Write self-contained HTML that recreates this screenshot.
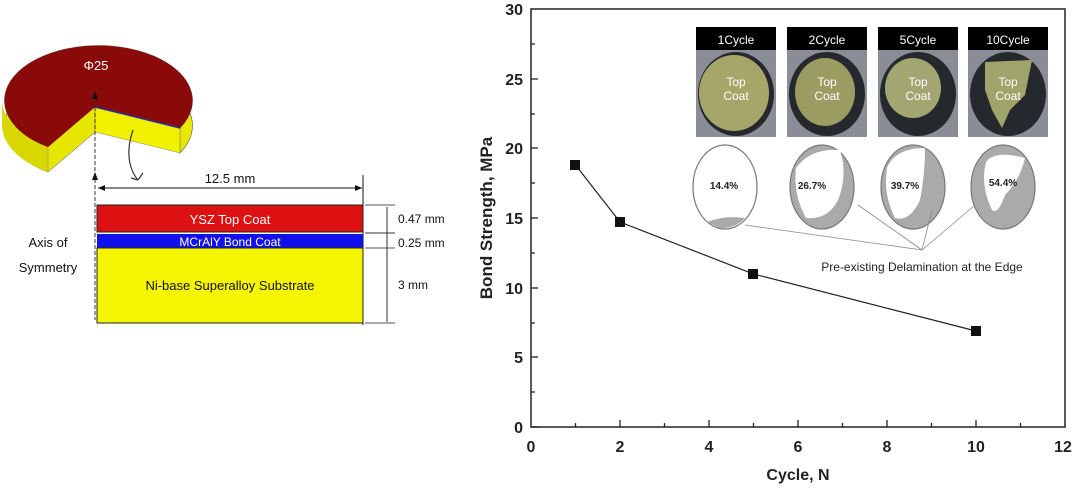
<!DOCTYPE html>
<html><head><meta charset="utf-8"><style>
html,body{margin:0;padding:0;background:#fff;}
svg{display:block;font-family:"Liberation Sans",Arial,sans-serif;}
</style></head><body>
<svg width="1080" height="491" viewBox="0 0 1080 491" xmlns="http://www.w3.org/2000/svg">
<!-- Left puck -->
<g>
  <path d="M95,132 L48,172 A94,55 0 1 1 180,153 L180,128 A94,55 0 1 0 48,147 Z" fill="#e8e800" stroke="#555" stroke-width="0.6"/>
  <path d="M2,100 L2,125 A94,55 0 0 0 48,172 L48,147 A94,55 0 0 1 2,100Z" fill="#d8d800"/>
  <polygon points="95,107 180,128 180,153 95,132" fill="#f0f000" stroke="#888" stroke-width="0.5"/>
  <polygon points="95,107 48,147 48,172 95,132" fill="#e6e600" stroke="#888" stroke-width="0.5"/>
  <path d="M95,107 L48,147 A94,55 0 1 1 180,128 Z" fill="#8a0a0a"/>
  <path d="M95,107 L180,128" stroke="#2233aa" stroke-width="1.5"/>
  <text x="96" y="70" fill="#fff" font-size="13" text-anchor="middle">Φ25</text>
  <line x1="95" y1="95" x2="95" y2="320" stroke="#333" stroke-width="1" stroke-dasharray="4,2"/>
  <polygon points="95,91 92,99 98,99" fill="#111"/>
  <polygon points="95,172 92,180 98,180" fill="#111"/>
  <path d="M133,130 C126,150 128,168 138,180 M138,180 L143,173 M138,180 L131,178" stroke="#333" fill="none" stroke-width="1.2"/>
</g>
<!-- Cross-section -->
<text x="230" y="183" font-size="13" text-anchor="middle" fill="#111">12.5 mm</text>
<line x1="98" y1="188" x2="362" y2="188" stroke="#111"/>
<polygon points="98,188 105,185 105,191" fill="#111"/>
<polygon points="362,188 355,185 355,191" fill="#111"/>
<line x1="363" y1="175" x2="363" y2="325" stroke="#111"/>
<rect x="97" y="205" width="266" height="27" fill="#dd1111" stroke="#222"/>
<rect x="97" y="234" width="266" height="14" fill="#1111ee"/>
<rect x="97" y="248" width="266" height="75" fill="#f5f500" stroke="#222"/>
<text x="230" y="224" fill="#fff" font-size="13" text-anchor="middle">YSZ Top Coat</text>
<text x="230" y="246" fill="#fff" font-size="12" text-anchor="middle">MCrAlY Bond Coat</text>
<text x="230" y="290" fill="#111" font-size="13" text-anchor="middle">Ni-base Superalloy Substrate</text>
<text x="48" y="247" fill="#111" font-size="13" text-anchor="middle">Axis of</text>
<text x="48" y="272" fill="#111" font-size="13" text-anchor="middle">Symmetry</text>
<line x1="365" y1="205" x2="395" y2="205" stroke="#555"/>
<line x1="365" y1="248" x2="395" y2="248" stroke="#555"/>
<line x1="365" y1="323" x2="395" y2="323" stroke="#555"/>
<line x1="365" y1="233" x2="395" y2="233" stroke="#999" stroke-width="2"/>
<line x1="387" y1="207" x2="387" y2="322" stroke="#333"/>
<text x="398" y="223" font-size="12" fill="#111">0.47 mm</text>
<text x="398" y="247" font-size="12" fill="#111">0.25 mm</text>
<text x="398" y="289" font-size="12" fill="#111">3 mm</text>

<!-- Chart -->
<rect x="531" y="9" width="534" height="418" fill="none" stroke="#222" stroke-width="1.5"/>
<g stroke="#222" stroke-width="1.3">
  <line x1="531" y1="427" x2="538" y2="427"/>
  <line x1="531" y1="357" x2="538" y2="357"/>
  <line x1="531" y1="288" x2="538" y2="288"/>
  <line x1="531" y1="218" x2="538" y2="218"/>
  <line x1="531" y1="148" x2="538" y2="148"/>
  <line x1="531" y1="79" x2="538" y2="79"/>
  <line x1="531" y1="392" x2="535" y2="392"/>
  <line x1="531" y1="323" x2="535" y2="323"/>
  <line x1="531" y1="253" x2="535" y2="253"/>
  <line x1="531" y1="183" x2="535" y2="183"/>
  <line x1="531" y1="114" x2="535" y2="114"/>
  <line x1="531" y1="44" x2="535" y2="44"/>
  <line x1="620" y1="427" x2="620" y2="420"/>
  <line x1="709" y1="427" x2="709" y2="420"/>
  <line x1="798" y1="427" x2="798" y2="420"/>
  <line x1="887" y1="427" x2="887" y2="420"/>
  <line x1="976" y1="427" x2="976" y2="420"/>
  <line x1="575.5" y1="427" x2="575.5" y2="423"/>
  <line x1="664.5" y1="427" x2="664.5" y2="423"/>
  <line x1="753.5" y1="427" x2="753.5" y2="423"/>
  <line x1="842.5" y1="427" x2="842.5" y2="423"/>
  <line x1="931.5" y1="427" x2="931.5" y2="423"/>
  <line x1="1020.5" y1="427" x2="1020.5" y2="423"/>
</g>
<g font-size="16" font-weight="bold" fill="#222" text-anchor="end">
  <text x="523" y="433">0</text><text x="523" y="363">5</text><text x="523" y="294">10</text>
  <text x="523" y="224">15</text><text x="523" y="154">20</text><text x="523" y="85">25</text><text x="523" y="15">30</text>
</g>
<g font-size="16" font-weight="bold" fill="#222" text-anchor="middle">
  <text x="531" y="452">0</text><text x="620" y="452">2</text><text x="709" y="452">4</text><text x="798" y="452">6</text>
  <text x="887" y="452">8</text><text x="976" y="452">10</text><text x="1063" y="452">12</text>
  <text x="798" y="480">Cycle, N</text>
</g>
<text transform="translate(492,218) rotate(-90)" font-size="17" font-weight="bold" fill="#222" text-anchor="middle">Bond Strength, MPa</text>
<polyline points="575.5,165 620,222 753.5,274 976,331" fill="none" stroke="#222" stroke-width="1.2"/>
<g fill="#111">
  <rect x="570" y="160" width="10" height="10"/><rect x="615" y="217" width="10" height="10"/>
  <rect x="748" y="269" width="10" height="10"/><rect x="971" y="326" width="10" height="10"/>
</g>
<!-- photos -->
<g>
  <rect x="696" y="27" width="80" height="110" fill="#8a8c96"/><rect x="696" y="27" width="80" height="23" fill="#000"/>
  <rect x="787" y="27" width="80" height="110" fill="#8a8c96"/><rect x="787" y="27" width="80" height="23" fill="#000"/>
  <rect x="878" y="27" width="80" height="110" fill="#8a8c96"/><rect x="878" y="27" width="80" height="23" fill="#000"/>
  <rect x="968" y="27" width="80" height="110" fill="#8a8c96"/><rect x="968" y="27" width="80" height="23" fill="#000"/>
  <ellipse cx="736" cy="94" rx="38" ry="42" fill="#25282c"/><ellipse cx="827" cy="94" rx="38" ry="42" fill="#25282c"/>
  <ellipse cx="918" cy="94" rx="38" ry="42" fill="#25282c"/><ellipse cx="1008" cy="94" rx="38" ry="42" fill="#25282c"/>
  <ellipse cx="734" cy="93" rx="35" ry="38" fill="#a6a66a"/>
  <ellipse cx="825" cy="92" rx="30" ry="34" fill="#9a9c62"/>
  <ellipse cx="913" cy="88" rx="28" ry="30" fill="#a2a670"/>
  <path d="M985,62 L1032,60 L1025,95 L1010,110 L1002,128 L992,110 L985,90 Z" fill="#9ea46a"/>
  <g fill="#fff" font-size="12" text-anchor="middle">
    <text x="736" y="44">1Cycle</text><text x="827" y="44">2Cycle</text><text x="918" y="44">5Cycle</text><text x="1008" y="44">10Cycle</text>
    <text x="736" y="86">Top</text><text x="736" y="100">Coat</text>
    <text x="827" y="86">Top</text><text x="827" y="100">Coat</text>
    <text x="918" y="86">Top</text><text x="918" y="100">Coat</text>
    <text x="1008" y="86">Top</text><text x="1008" y="100">Coat</text>
  </g>
  <ellipse cx="725" cy="187" rx="32" ry="42" fill="#fff" stroke="#777" stroke-width="1.2"/>
  <path d="M707,222 Q725,215 745,218 Q735,229 720,228 Z" fill="#aaa"/>
  <ellipse cx="822" cy="187" rx="32" ry="42" fill="#aaa" stroke="#777" stroke-width="1.2"/>
  <path d="M796,168 Q810,148 840,150 Q848,175 838,200 Q828,220 806,218 Q793,195 796,168Z" fill="#fff"/>
  <ellipse cx="913" cy="187" rx="32" ry="42" fill="#aaa" stroke="#777" stroke-width="1.2"/>
  <path d="M887,168 Q895,148 925,148 Q925,175 920,200 Q910,222 895,218 Q883,195 887,168Z" fill="#fff"/>
  <ellipse cx="1003" cy="187" rx="32" ry="42" fill="#aaa" stroke="#777" stroke-width="1.2"/>
  <path d="M986,162 Q995,150 1025,158 Q1020,180 1005,195 Q998,215 992,210 Q980,185 986,162Z" fill="#fff"/>
  <g font-size="10" font-weight="bold" fill="#222" text-anchor="middle">
    <text x="724" y="189">14.4%</text><text x="812" y="189">26.7%</text><text x="905" y="189">39.7%</text><text x="1003" y="186">54.4%</text>
  </g>
  <g stroke="#888" stroke-width="0.8">
    <line x1="745" y1="225" x2="922" y2="250"/><line x1="858" y1="205" x2="922" y2="250"/>
    <line x1="932" y1="210" x2="922" y2="250"/><line x1="975" y1="205" x2="922" y2="250"/>
  </g>
  <text x="922" y="271" font-size="12" fill="#222" text-anchor="middle">Pre-existing Delamination at the Edge</text>
</g>
</svg>
</body></html>
